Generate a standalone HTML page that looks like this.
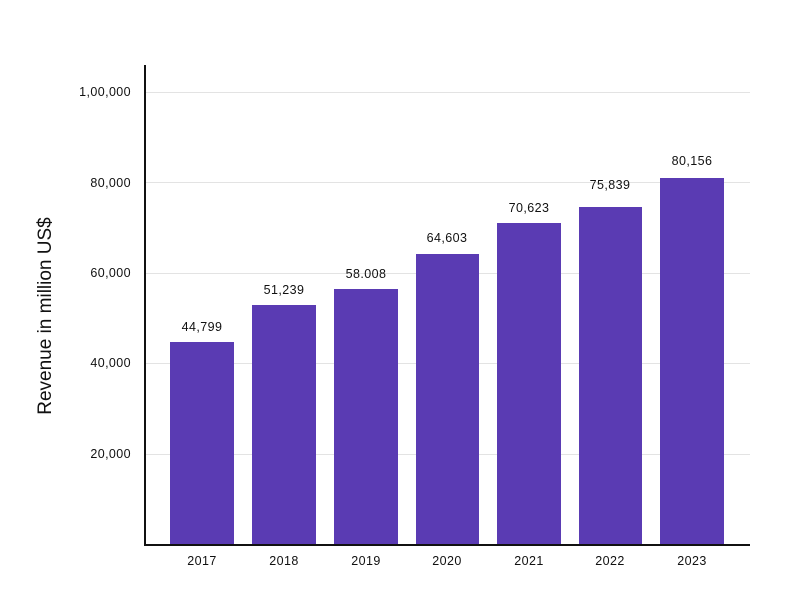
<!DOCTYPE html>
<html><head><style>
body{margin:0;background:#fff}
svg{display:block;font-family:"Liberation Sans",sans-serif}
</style></head><body>
<svg width="800" height="601" viewBox="0 0 800 601">
<g stroke="#e3e3e3" stroke-width="1">
<line x1="145" y1="92.5" x2="750" y2="92.5"/>
<line x1="145" y1="182.5" x2="750" y2="182.5"/>
<line x1="145" y1="273.5" x2="750" y2="273.5"/>
<line x1="145" y1="363.5" x2="750" y2="363.5"/>
<line x1="145" y1="454.5" x2="750" y2="454.5"/>
</g>
<g fill="#5a3bb3">
<rect x="170" y="342" width="64" height="203"/>
<rect x="252" y="305" width="64" height="240"/>
<rect x="334" y="289" width="64" height="256"/>
<rect x="416" y="254" width="63" height="291"/>
<rect x="497" y="223" width="64" height="322"/>
<rect x="579" y="207" width="63" height="338"/>
<rect x="660" y="178" width="64" height="367"/>
</g>
<line x1="145" y1="65" x2="145" y2="546" stroke="#111" stroke-width="2"/>
<line x1="144" y1="545" x2="750" y2="545" stroke="#111" stroke-width="2"/>
<g font-size="12.5" letter-spacing="0.4" fill="#111" text-anchor="end">
<text x="131" y="96">1,00,000</text>
<text x="131" y="187">80,000</text>
<text x="131" y="277">60,000</text>
<text x="131" y="367">40,000</text>
<text x="131" y="458">20,000</text>
</g>
<g font-size="12.5" letter-spacing="0.4" fill="#111" text-anchor="middle">
<text x="202" y="565">2017</text>
<text x="284" y="565">2018</text>
<text x="366" y="565">2019</text>
<text x="447" y="565">2020</text>
<text x="529" y="565">2021</text>
<text x="610" y="565">2022</text>
<text x="692" y="565">2023</text>
<text x="202" y="331">44,799</text>
<text x="284" y="294">51,239</text>
<text x="366" y="278">58.008</text>
<text x="447" y="242">64,603</text>
<text x="529" y="212">70,623</text>
<text x="610" y="189">75,839</text>
<text x="692" y="165">80,156</text>
</g>
<text transform="translate(51,316) rotate(-90)" font-size="19" fill="#111" text-anchor="middle">Revenue in million US$</text>
</svg>
</body></html>
